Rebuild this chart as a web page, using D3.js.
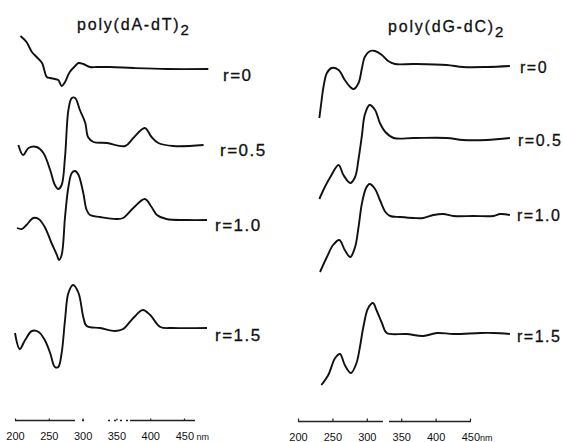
<!DOCTYPE html>
<html>
<head>
<meta charset="utf-8">
<script src="https://cdn.jsdelivr.net/npm/d3@7"></script>
<style>
  body { margin: 0; background: #fff; }
  svg { display: block; }
</style>
</head>
<body>
<div id="chart"></div>
<script>
// CD spectra, wavelength (nm) vs. signal (arbitrary units, positive up)
const rLabels = ["r=0", "r=0.5", "r=1.0", "r=1.5"];
const tickNm = [200, 250, 300, 350, 400, 450];

// poly(dA-dT)2
const atWl0 = [208,217,225,232,240,247,252,259,264,269,274,281,289,294,301,311,321,341,375,425,486];
const atCd0 = [33,27,17,12,6,-8,-9,-10,-11,-17,-13,-3,3,6,5,2,2,2,1,0,0];
const atWl1 = [205,212,220,232,242,252,259,264,269,274,279,284,289,296,304,308,316,336,363,375,392,402,412,434,479];
const atCd1 = [0,-10,-3,-2,-8,-25,-40,-44,-40,-12,35,47,47,35,22,8,3,2,-1,7,17,8,2,-1,0];
const atWl2 = [203,210,217,227,235,244,254,262,265,269,274,279,284,289,294,301,306,311,326,350,360,375,392,402,410,424,454,484];
const atCd2 = [-9,-10,-6,1,0,-8,-24,-36,-41,-36,2,32,46,48,44,26,9,4,2,0,1,11,20,12,4,0,-1,-1];
const atWl3 = [200,207,215,225,235,244,252,259,264,269,274,279,286,294,301,306,326,348,360,375,389,400,415,434,484];
const atCd3 = [-5,-21,-12,-3,-4,-12,-25,-39,-39,-25,8,35,43,35,11,2,0,-3,-1,10,18,13,1,0,0];

// poly(dG-dC)2
const gcWl0 = [231,234,237,242,249,259,268,276,281,288,293,297,305,312,322,331,341,368,416,440,474,508];
const gcCd0 = [-53,-37,-22,-8,-3,-5,-15,-22,-24,-18,-3,8,14,14,10,4,1,1,0,-2,-2,-1];
const gcWl1 = [231,239,247,259,266,276,283,288,293,297,304,312,319,327,339,368,416,440,474,508];
const gcCd1 = [-60,-48,-38,-26,-36,-44,-38,-20,4,24,34,29,16,7,1,1,1,-1,-1,1];
const gcWl2 = [232,242,251,260,268,276,283,288,293,299,304,312,319,327,334,348,368,382,397,411,426,455,484,494,508];
const gcCd2 = [-57,-42,-30,-25,-35,-42,-32,-12,12,27,31,26,15,3,-1,-2,-3,-3,0,1,-1,-1,-1,1,0];
const gcWl3 = [234,244,254,261,268,277,285,290,295,302,309,314,322,329,358,382,402,426,465,484,508];
const gcCd3 = [-51,-41,-24,-20,-31,-39,-29,-13,7,26,31,24,11,1,0,-2,1,0,1,1,0];

const WIDTH = 563, HEIGHT = 442;

const panels = [
  {
    title: "poly(dA-dT)", titleX: 77, titleY: 30,
    x: d3.scaleLinear().domain([200, 450]).range([15, 184]),
    wl: [atWl0, atWl1, atWl2, atWl3], cd: [atCd0, atCd1, atCd2, atCd3],
    base: [69, 145, 219, 328],
    labelX: [223, 220, 215, 215], labelY: [75, 150, 225, 335], labelSize: 17,
    axisY: 420.5, axisEnd: 195, dash: "60,7,2,24,2,4,2,4,2,4,2,2,65", tick: -2,
    nm: " nm"
  },
  {
    title: "poly(dG-dC)", titleX: 388, titleY: 32,
    x: d3.scaleLinear().domain([200, 450]).range([298, 470]),
    wl: [gcWl0, gcWl1, gcWl2, gcWl3], cd: [gcCd0, gcCd1, gcCd2, gcCd3],
    base: [65, 139, 215, 334],
    labelX: [520, 518, 517, 517], labelY: [67, 140, 215, 336], labelSize: 16,
    axisY: 421.5, axisEnd: 471, dash: "85,6,82", tick: -3,
    nm: "nm"
  }
];

const cdScale = d3.scaleLinear().domain([0, 50]).range([0, -50]);

const svg = d3.select("#chart")
    .append("svg")
    .attr("width", WIDTH)
    .attr("height", HEIGHT);

svg.append("rect")
    .attr("width", WIDTH)
    .attr("height", HEIGHT)
    .attr("fill", "#fff");

panels.forEach(function (p) {
  // title with subscript 2
  const t = svg.append("text")
      .attr("x", p.titleX)
      .attr("y", p.titleY)
      .style("font-family", "Liberation Sans, Arial, sans-serif")
      .style("font-size", "16px")
      .style("letter-spacing", "1.8px")
      .attr("fill", "#111")
      .attr("stroke", "#111")
      .attr("stroke-width", 0.3)
      .text(p.title);
  t.append("tspan")
      .attr("dy", 5)
      .style("font-size", "15px")
      .text("2");

  // spectra
  p.wl.forEach(function (wl, i) {
    const pts = wl.map((w, j) => [w, p.cd[i][j]]);
    const line = d3.line()
        .x(d => p.x(d[0]))
        .y(d => p.base[i] + cdScale(d[1]))
        .curve(d3.curveCatmullRom.alpha(0.5));
    svg.append("path")
        .datum(pts)
        .attr("d", line)
        .attr("fill", "none")
        .attr("stroke", "#111")
        .attr("stroke-width", 1.9)
        .attr("stroke-linejoin", "round");

    svg.append("text")
        .attr("x", p.labelX[i])
        .attr("y", p.labelY[i])
        .attr("dy", "0.36em")
        .style("font-family", "Liberation Sans, Arial, sans-serif")
        .style("font-size", p.labelSize + "px")
        .style("letter-spacing", "1.5px")
        .attr("fill", "#111")
        .attr("stroke", "#111")
        .attr("stroke-width", 0.3)
        .text(rLabels[i]);
  });

  // wavelength axis (scanned line has gaps)
  svg.append("line")
      .attr("x1", p.x(200))
      .attr("x2", p.axisEnd)
      .attr("y1", p.axisY)
      .attr("y2", p.axisY)
      .attr("stroke", "#222")
      .attr("stroke-width", 1.3)
      .attr("stroke-dasharray", p.dash);

  const ax = svg.append("g")
      .attr("transform", "translate(0," + p.axisY + ")")
      .call(d3.axisBottom(p.x)
          .tickValues(tickNm)
          .tickSizeInner(p.tick)
          .tickSizeOuter(0)
          .tickPadding(12)
          .tickFormat(d3.format("d")));
  ax.select(".domain").remove();
  ax.selectAll(".tick line").attr("stroke", "#222").attr("stroke-width", 1.2);
  ax.selectAll(".tick text")
      .attr("fill", "#111")
      .style("font-family", "Liberation Sans Narrow, Liberation Sans, Arial, sans-serif")
      .style("font-size", "11px");
  ax.selectAll(".tick text")
      .filter(d => d === 450)
      .attr("text-anchor", "start")
      .attr("dx", "-0.8em")
      .append("tspan")
      .style("font-size", "9px")
      .text(p.nm);
});
</script>
</body>
</html>
